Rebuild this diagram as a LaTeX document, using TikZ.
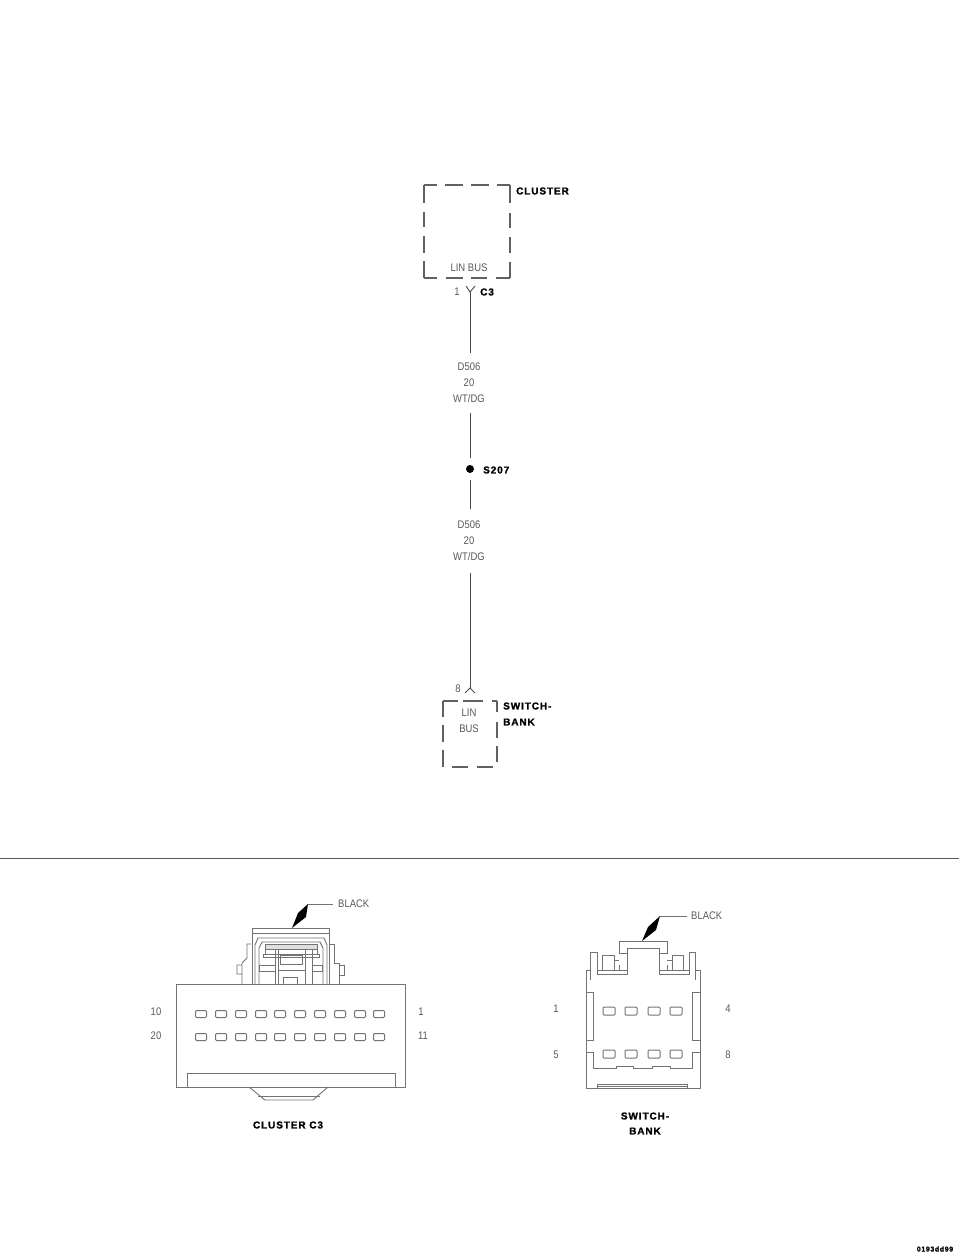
\documentclass[tikz,border=0pt]{standalone}
\usepackage{fontspec}
\setmainfont{Liberation Sans}
\newfontfamily\tagfont[LetterSpace=9,FakeBold=1.2]{Liberation Sans Bold}
\newfontfamily\thinfont[FakeStretch=0.86]{Liberation Sans}
\tikzset{
	thinlbl/.style={inner sep=0, text=black!65, font=\thinfont\fontsize{11}{16}\selectfont},
	boldlbl/.style={inner sep=0, text=black, font=\tagfont\fontsize{10}{15}\selectfont},
	wirelbl/.style={thinlbl, align=center, outer sep=10},
	wire/.style={line width=0.9, black!70},
	boxdash/.style={line width=1.9, black!62},
	part/.style={line width=0.9, black!55},
	pin/.style={line width=1, black!55, rounded corners=1},
}
\begin{document}
\begin{tikzpicture}[x=1pt, y=-1pt]
	\useasboundingbox (0,0) rectangle (960,1257);
	\fill[white] (0,0) rectangle (960,1257);
	% top module
	\foreach \ax/\ay/\bx/\by in {424/203/424/185, 424/185/437/185, 445/185/463/185, 471/185/489/185, 497/185/510/185, 510/185/510/203,
		424/212/424/227, 424/236/424/253, 510/213/510/228, 510/237/510/253,
		424/261/424/278, 424/278/437/278, 446/278/463/278, 471/278/487/278, 496/278/510/278, 510/278/510/262}
		\draw[boxdash] (\ax,\ay) -- (\bx,\by);
	\node[boldlbl, anchor=west] (clusterLbl) at (516,191) {CLUSTER};
	\node[thinlbl] (clusterBus) at (469,268) {LIN BUS};
	\coordinate (pinA) at (470,292);
	\node[thinlbl] (pinAnum) at (457,292) {1};
	\node[boldlbl, anchor=west] (pinAlbl) at (480,292) {C3};
	\draw[wire] (466,286) -- (pinA) -- (475,286);
	% wire run
	\node[wirelbl] (wireA) at (469,383) {D506\\20\\WT/DG};
	\node[circle, fill=black, minimum size=8, inner sep=0, outer sep=7] (splice) at (470,469) {};
	\node[boldlbl, anchor=west] (spliceLbl) at (483,470) {S207};
	\node[wirelbl, outer sep=12] (wireB) at (469,541) {D506\\20\\WT/DG};
	\coordinate (pinB) at (470,688);
	\draw[wire] (pinA) -- (pinA |- wireA.north);
	\draw[wire] (wireA.south -| splice) -- (splice.north);
	\draw[wire] (splice.south) -- (splice |- wireB.north);
	\draw[wire] (splice |- wireB.south) -- (pinB);
	% lower module
	\draw[wire] (465,693) -- (pinB) -- (475,693);
	\node[thinlbl] (pinBnum) at (458,689) {8};
	\foreach \ax/\ay/\bx/\by in {443/717/443/701, 443/701/458/701, 463/701/483/701, 492/701/497/701, 497/701/497/712,
		443/725/443/742, 497/722/497/738, 443/750/443/767, 497/746/497/762, 452/767/468/767, 477/767/493/767}
		\draw[boxdash] (\ax,\ay) -- (\bx,\by);
	\node[thinlbl] (busA) at (469,713) {LIN};
	\node[thinlbl] (busB) at (469,729) {BUS};
	\node[boldlbl, anchor=west] (bankA) at (503,706) {SWITCH-};
	\node[boldlbl, anchor=west] (bankB) at (503,722) {BANK};
	\draw[line width=0.9, black!65] (0,858) -- (959,858);
	% cluster connector
	\draw[part] (176,984) rectangle (405,1087);
	\draw[part] (187,1087) -- (187,1073) -- (395,1073) -- (395,1087);
	\draw[part] (249,1087) -- (265,1100) -- (313,1100) -- (328,1087);
	\draw[part] (258,1096) -- (320,1096);
	\draw[part] (252,984) -- (252,928) -- (329,928) -- (329,984) (252,933) -- (329,933);
	\draw[part] (255,984) -- (255,945) -- (258,938) -- (324,938) -- (327,945) -- (327,984);
	\draw[part] (259,984) -- (259,948) -- (262,942) -- (320,942) -- (323,948) -- (323,984);
	\draw[part, fill=black!12] (265,944) rectangle (317,949);
	\draw[part] (265,949) rectangle (317,954) (263,954) rectangle (319,957);
	\draw[part] (275,984) -- (275,950) (278,984) -- (278,950) (305,984) -- (305,950) (312,984) -- (312,950);
	\draw[part] (280,955) rectangle (302,964) (278,970) -- (305,970);
	\draw[part] (283,984) -- (283,977) -- (297,977) -- (297,984);
	\draw[part] (259,965) rectangle (275,971) (312,965) rectangle (322,971);
	\draw[part] (251,944) -- (247,944) -- (247,958) -- (242,963) -- (242,984) (242,965) -- (237,965) -- (237,974) -- (242,974);
	\draw[part] (330,944) -- (334,944) -- (334,963) -- (339,963) -- (339,984) (339,965) -- (344,965) -- (344,975) -- (339,975);
	\foreach \x in {201,221,241,261,280,300,320,340,360,379} {
		\draw[pin] (\x-5.5,1010.5) rectangle (\x+5.5,1017.5);
		\draw[pin] (\x-5.5,1033.5) rectangle (\x+5.5,1040.5);
	}
	\node[thinlbl] (clusterTen) at (156,1012) {10};
	\node[thinlbl] (clusterTwenty) at (156,1036) {20};
	\node[thinlbl] (clusterOne) at (421,1012) {1};
	\node[thinlbl] (clusterEleven) at (423,1036) {11};
	\node[boldlbl] (clusterName) at (288,1125) {CLUSTER C3};
	\node[thinlbl, anchor=west] (colorA) at (338,904) {BLACK};
	\coordinate (elbowA) at (308,904);
	\draw[part] (colorA.west) ++(-5,0) -- (elbowA);
	\fill[black] (elbowA) -- (306,917) -- (292,928) -- (298,913) -- cycle;
	% switch bank connector
	\draw[part] (586,1088) -- (586,970) -- (590,970) -- (590,952) -- (597,952) -- (597,974) -- (627,974) -- (627,953) -- (619,953) -- (619,941)
		-- (667,941) -- (667,953) -- (659,953) -- (659,974) -- (689,974) -- (689,952) -- (695,952) -- (695,970) -- (700,970) -- (700,1088) -- cycle;
	\draw[part] (597,970) -- (627,970) (659,970) -- (689,970) (627,948) -- (659,948) (627,948) -- (627,953) (659,948) -- (659,953);
	\draw[part] (590,970) -- (590,980) (695,970) -- (695,980);
	\draw[part] (614,970) -- (614,955) -- (602,955) -- (602,970) (614,960) -- (619,960) (619,965) -- (619,970);
	\draw[part] (672,970) -- (672,955) -- (683,955) -- (683,970) (667,960) -- (672,960) (667,965) -- (667,970);
	\draw[part] (586,992) -- (593,992) -- (593,1040) -- (586,1040);
	\draw[part] (700,992) -- (692,992) -- (692,1040) -- (700,1040);
	\draw[part] (586,1052) -- (593,1052) -- (593,1068) -- (616,1068) -- (616,1066) -- (633,1066) -- (633,1068) -- (652,1068) -- (652,1066) -- (670,1066) -- (670,1068) -- (692,1068) -- (692,1052) -- (700,1052);
	\draw[part] (597,1088) -- (597,1084) -- (687,1084) -- (687,1088) (597,1086) -- (687,1086);
	\foreach \x in {609,631,654,676} {
		\draw[pin] (\x-6,1007) rectangle (\x+6,1015);
		\draw[pin] (\x-6,1050) rectangle (\x+6,1058);
	}
	\node[thinlbl] (bankOne) at (556,1009) {1};
	\node[thinlbl] (bankFour) at (728,1009) {4};
	\node[thinlbl] (bankFive) at (556,1055) {5};
	\node[thinlbl] (bankEight) at (728,1055) {8};
	\node[boldlbl] (bankNameA) at (645,1116) {SWITCH-};
	\node[boldlbl] (bankNameB) at (645,1131) {BANK};
	\node[thinlbl, anchor=west] (colorB) at (691,916) {BLACK};
	\coordinate (elbowB) at (660,916);
	\draw[part] (colorB.west) ++(-4,0) -- (elbowB);
	\fill[black] (elbowB) -- (656,930) -- (642,941) -- (648,927) -- cycle;
	\node[boldlbl, font=\tagfont\fontsize{7}{8}\selectfont] (figId) at (935,1249) {0193dd99};
\end{tikzpicture}
\end{document}
